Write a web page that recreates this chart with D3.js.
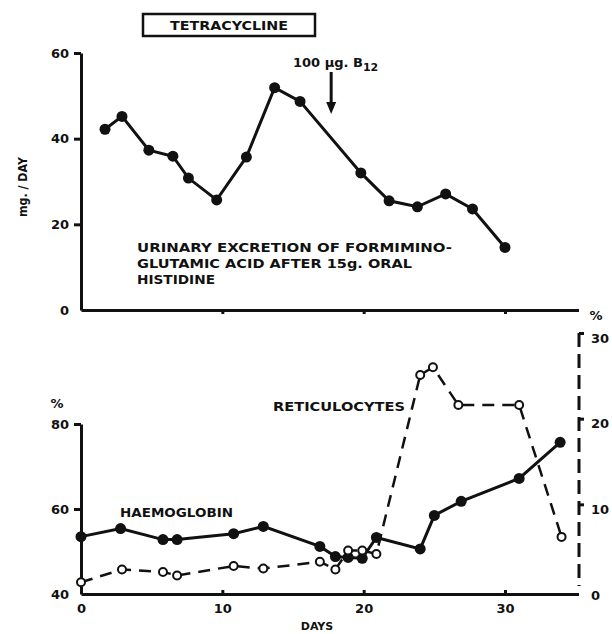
<!DOCTYPE html>
<html>
<head>
<meta charset="utf-8">
<script src="https://cdn.jsdelivr.net/npm/d3@7"></script>
<style>
  body { margin: 0; background: #fff; }
  svg text { font-family: "DejaVu Sans", "Liberation Sans", sans-serif; font-weight: bold; fill: #111; }
  .axis path, .axis line { stroke: #111; stroke-width: 3; }
  .axis text { font-size: 13px; }
</style>
</head>
<body>
<div id="graphic"></div>
<script>
// --- data ---
const figaDays = [1.7, 2.9, 4.8, 6.5, 7.6, 9.6, 11.7, 13.7, 15.5, 19.8, 21.8, 23.8, 25.8, 27.7, 30.0];
const figaValues = [42.2, 45.2, 37.3, 35.9, 30.8, 25.7, 35.7, 51.9, 48.7, 32.0, 25.5, 24.1, 27.1, 23.6, 14.6];

const hbDays = [0, 2.8, 5.8, 6.8, 10.8, 12.9, 16.9, 18.0, 18.9, 19.9, 20.9, 24.0, 25.0, 26.9, 31.0, 33.9];
const hbValues = [53.5, 55.4, 52.8, 52.8, 54.2, 55.9, 51.2, 48.8, 48.6, 48.4, 53.3, 50.6, 58.5, 61.8, 67.2, 75.7];

const retDays = [0, 2.9, 5.8, 6.8, 10.8, 12.9, 16.9, 18.0, 18.9, 19.9, 20.9, 24.0, 24.9, 26.7, 31.0, 34.0];
const retValues = [0.9, 2.4, 2.1, 1.7, 2.8, 2.5, 3.3, 2.4, 4.6, 4.6, 4.2, 25.1, 26.0, 21.6, 21.6, 6.2];

const dayTicks = [0, 10, 20, 30];
const figaTicks = [0, 20, 40, 60];
const hbTicks = [40, 60, 80];
const retTicks = [0, 10, 20, 30];
const b12Day = 17.7;

const svg = d3.select('#graphic').append('svg')
  .attr('width', 612).attr('height', 634);

// scales
const x = d3.scaleLinear().domain([0, 35.2]).range([81, 578.5]);
const yTop = d3.scaleLinear().domain([0, 60]).range([310, 53]);
const yHb = d3.scaleLinear().domain([40, 80]).range([594, 424]);
const yRet = d3.scaleLinear().domain([0, 30]).range([590, 333]);

// ---------- top panel ----------
svg.append('g').attr('class', 'axis')
  .attr('transform', 'translate(81,0)')
  .call(d3.axisLeft(yTop).tickValues(figaTicks).tickSize(7).tickSizeOuter(0).tickPadding(5))
  .call(g => g.selectAll('.tick').filter(d => d === 0).select('line').remove());

svg.append('g').attr('class', 'axis')
  .attr('transform', 'translate(0,310)')
  .call(d3.axisBottom(x).tickValues([10, 20, 30]).tickSize(4).tickSizeOuter(0).tickFormat(''))
  .call(g => g.selectAll('.tick line').attr('stroke-width', 2));

// title box
svg.append('rect').attr('x', 143).attr('y', 14).attr('width', 172).attr('height', 22)
  .attr('fill', 'none').attr('stroke', '#111').attr('stroke-width', 2.5);
svg.append('text').attr('x', 229).attr('y', 30).attr('text-anchor', 'middle')
  .attr('font-size', 13).attr('textLength', 118).attr('lengthAdjust', 'spacingAndGlyphs')
  .text('TETRACYCLINE');

// y label
svg.append('text').attr('transform', 'translate(27,187) rotate(-90)')
  .attr('text-anchor', 'middle').attr('font-size', 13)
  .attr('textLength', 60).attr('lengthAdjust', 'spacingAndGlyphs')
  .text('mg. / DAY');

const lineTop = d3.line().x((d, i) => x(figaDays[i])).y(d => yTop(d));
svg.append('path').datum(figaValues).attr('d', lineTop)
  .attr('fill', 'none').attr('stroke', '#111').attr('stroke-width', 3);
svg.append('g').selectAll('circle').data(figaValues).join('circle')
  .attr('cx', (d, i) => x(figaDays[i])).attr('cy', d => yTop(d)).attr('r', 5.5).attr('fill', '#111');

// B12 arrow
const arrowX = x(b12Day);
svg.append('line').attr('x1', arrowX).attr('x2', arrowX).attr('y1', 72).attr('y2', 104)
  .attr('stroke', '#111').attr('stroke-width', 3);
svg.append('path').attr('d', `M${arrowX - 5},102 L${arrowX + 5},102 L${arrowX},114 Z`).attr('fill', '#111');
const b12 = svg.append('text').attr('x', 293).attr('y', 67).attr('font-size', 13);
b12.append('tspan').text('100 μg. B');
b12.append('tspan').attr('dy', 4).attr('font-size', 11).text('12');

// annotation
const note = ['URINARY EXCRETION OF FORMIMINO-', 'GLUTAMIC ACID AFTER 15g. ORAL', 'HISTIDINE'];
const noteW = [315, 275, 78];
svg.append('g').selectAll('text').data(note).join('text')
  .attr('x', 137).attr('y', (d, i) => 252 + i * 16).attr('font-size', 13)
  .attr('textLength', (d, i) => noteW[i]).attr('lengthAdjust', 'spacingAndGlyphs')
  .text(d => d);

// ---------- bottom panel ----------
svg.append('g').attr('class', 'axis')
  .attr('transform', 'translate(81,0)')
  .call(d3.axisLeft(yHb).tickValues(hbTicks).tickSize(7).tickSizeOuter(0).tickPadding(5))
  .call(g => g.selectAll('.tick').filter(d => d === 40).select('line').remove());

svg.append('g').attr('class', 'axis')
  .attr('transform', 'translate(0,594)')
  .call(d3.axisBottom(x).tickValues(dayTicks).tickSize(-4).tickSizeOuter(0).tickPadding(10))
  .call(g => g.selectAll('.tick line').attr('stroke-width', 2));

// right axis (reticulocytes)
svg.append('g').attr('class', 'axis')
  .attr('transform', 'translate(579,0)')
  .call(d3.axisRight(yRet).tickValues(retTicks).tickSize(5).tickSizeOuter(0).tickPadding(7))
  .call(g => g.select('.domain').attr('stroke-dasharray', '14,7').attr('d', 'M0,333V586'))
  .call(g => g.selectAll('.tick').filter(d => d === 0).select('line').remove())
  .call(g => g.selectAll('.tick text').attr('dy', '0.7em'));

svg.append('text').attr('x', 57).attr('y', 408).attr('text-anchor', 'middle').attr('font-size', 13).text('%');
svg.append('text').attr('x', 596).attr('y', 320).attr('text-anchor', 'middle').attr('font-size', 13).text('%');
svg.append('text').attr('x', 317).attr('y', 630).attr('text-anchor', 'middle').attr('font-size', 11).text('DAYS');

svg.append('text').attr('x', 120).attr('y', 517).attr('font-size', 13)
  .attr('textLength', 113).attr('lengthAdjust', 'spacingAndGlyphs').text('HAEMOGLOBIN');
svg.append('text').attr('x', 273).attr('y', 411).attr('font-size', 13)
  .attr('textLength', 132).attr('lengthAdjust', 'spacingAndGlyphs').text('RETICULOCYTES');

// reticulocytes dashed
const lineRet = d3.line().x((d, i) => x(retDays[i])).y(d => yRet(d));
svg.append('path').datum(retValues).attr('d', lineRet)
  .attr('fill', 'none').attr('stroke', '#111').attr('stroke-width', 2.5).attr('stroke-dasharray', '12,8');

// haemoglobin solid
const lineHb = d3.line().x((d, i) => x(hbDays[i])).y(d => yHb(d));
svg.append('path').datum(hbValues).attr('d', lineHb)
  .attr('fill', 'none').attr('stroke', '#111').attr('stroke-width', 3);
svg.append('g').selectAll('circle').data(hbValues).join('circle')
  .attr('cx', (d, i) => x(hbDays[i])).attr('cy', d => yHb(d)).attr('r', 5.5).attr('fill', '#111');

svg.append('g').selectAll('circle').data(retValues).join('circle')
  .attr('cx', (d, i) => x(retDays[i])).attr('cy', d => yRet(d)).attr('r', 4)
  .attr('fill', '#fff').attr('stroke', '#111').attr('stroke-width', 2);
</script>
</body>
</html>
